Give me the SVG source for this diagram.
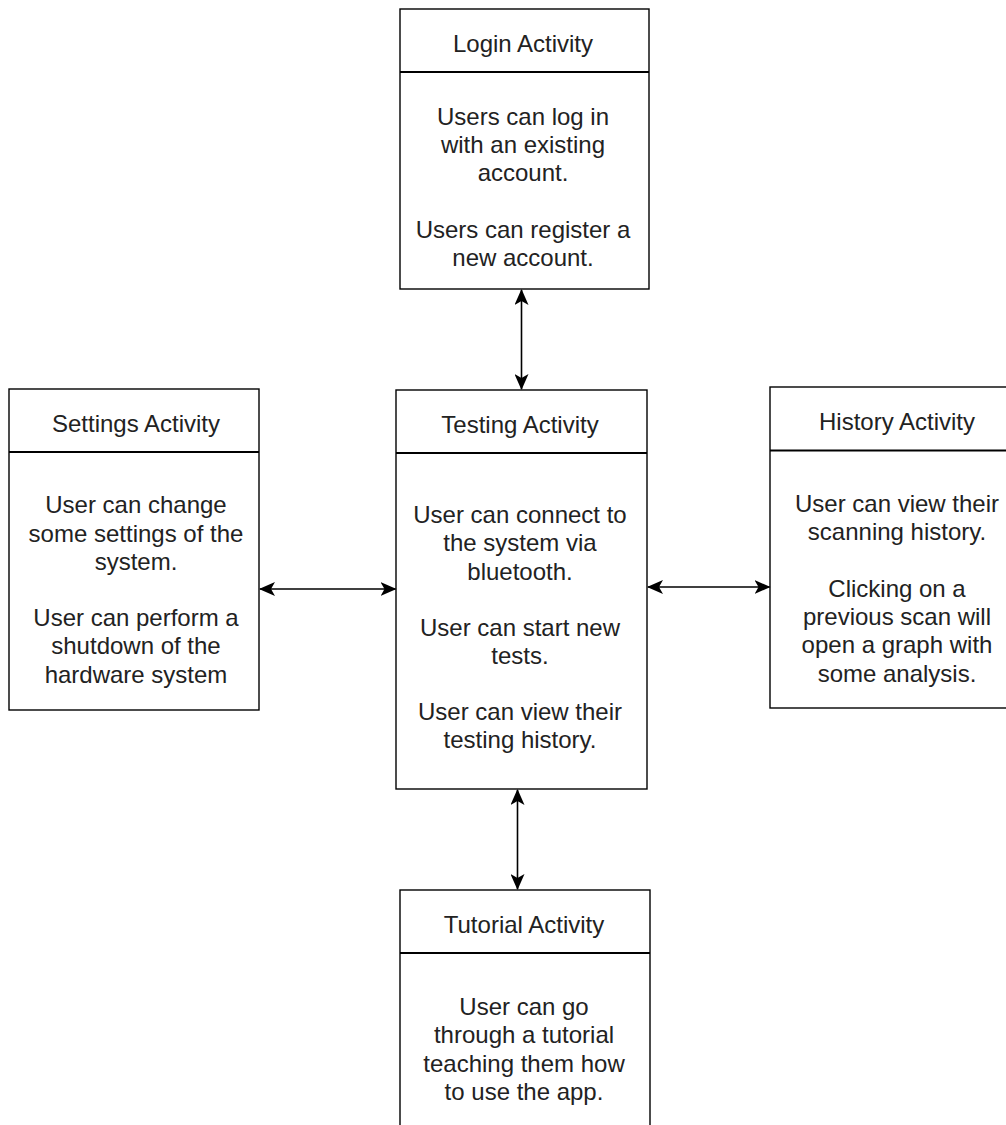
<svg xmlns="http://www.w3.org/2000/svg" width="1006" height="1125" viewBox="0 0 1006 1125">
<defs>
<style>
.box{fill:#ffffff;stroke:#000000;stroke-width:1.4}
.div{stroke:#000000;stroke-width:2.2}
.t{font-family:"Liberation Sans",Arial,sans-serif;font-size:24px;fill:#222222;text-anchor:middle}
.edge{stroke:#000000;stroke-width:1.6;fill:none;marker-start:url(#arr);marker-end:url(#arr)}
</style>
<marker id="arr" viewBox="0 0 16 14" refX="15" refY="7" markerWidth="16" markerHeight="14" markerUnits="userSpaceOnUse" orient="auto-start-reverse">
<path d="M0,0 L16,7 L0,14 L4,7 Z" fill="#000000"/>
</marker>
</defs>
<rect width="1006" height="1125" fill="#ffffff"/>

<g id="login">
<rect class="box" x="400" y="9" width="249" height="280"/>
<line class="div" x1="400" y1="72" x2="649" y2="72"/>
<text class="t" x="523" y="52">Login Activity</text>
<text class="t" x="523" y="125">Users can log in</text>
<text class="t" x="523" y="153.2">with an existing</text>
<text class="t" x="523" y="181.4">account.</text>
<text class="t" x="523" y="237.8">Users can register a</text>
<text class="t" x="523" y="266">new account.</text>
</g>

<g id="testing">
<rect class="box" x="396" y="390" width="251" height="399"/>
<line class="div" x1="396" y1="453" x2="647" y2="453"/>
<text class="t" x="520" y="433">Testing Activity</text>
<text class="t" x="520" y="523.3">User can connect to</text>
<text class="t" x="520" y="551.4">the system via</text>
<text class="t" x="520" y="579.5">bluetooth.</text>
<text class="t" x="520" y="635.7">User can start new</text>
<text class="t" x="520" y="663.8">tests.</text>
<text class="t" x="520" y="720">User can view their</text>
<text class="t" x="520" y="748.1">testing history.</text>
</g>

<g id="settings">
<rect class="box" x="9" y="389" width="250" height="321"/>
<line class="div" x1="9" y1="452" x2="259" y2="452"/>
<text class="t" x="136" y="432">Settings Activity</text>
<text class="t" x="136" y="513.4">User can change</text>
<text class="t" x="136" y="541.6">some settings of the</text>
<text class="t" x="136" y="569.8">system.</text>
<text class="t" x="136" y="626.2">User can perform a</text>
<text class="t" x="136" y="654.4">shutdown of the</text>
<text class="t" x="136" y="682.6">hardware system</text>
</g>

<g id="history">
<rect class="box" x="770" y="387" width="252" height="321"/>
<line class="div" x1="770" y1="450.5" x2="1022" y2="450.5"/>
<text class="t" x="897" y="430">History Activity</text>
<text class="t" x="897" y="511.7">User can view their</text>
<text class="t" x="897" y="540">scanning history.</text>
<text class="t" x="897" y="596.6">Clicking on a</text>
<text class="t" x="897" y="624.9">previous scan will</text>
<text class="t" x="897" y="653.2">open a graph with</text>
<text class="t" x="897" y="681.5">some analysis.</text>
</g>

<g id="tutorial">
<rect class="box" x="400" y="890" width="250" height="260"/>
<line class="div" x1="400" y1="953" x2="650" y2="953"/>
<text class="t" x="524" y="933">Tutorial Activity</text>
<text class="t" x="524" y="1014.5">User can go</text>
<text class="t" x="524" y="1043">through a tutorial</text>
<text class="t" x="524" y="1071.5">teaching them how</text>
<text class="t" x="524" y="1100">to use the app.</text>
</g>

<g id="connectors">
<line class="edge" x1="521.5" y1="290" x2="521.5" y2="389"/>
<line class="edge" x1="260" y1="589" x2="395.5" y2="589"/>
<line class="edge" x1="648" y1="587" x2="769.5" y2="587"/>
<line class="edge" x1="517.5" y1="790" x2="517.5" y2="889"/>
</g>
</svg>
